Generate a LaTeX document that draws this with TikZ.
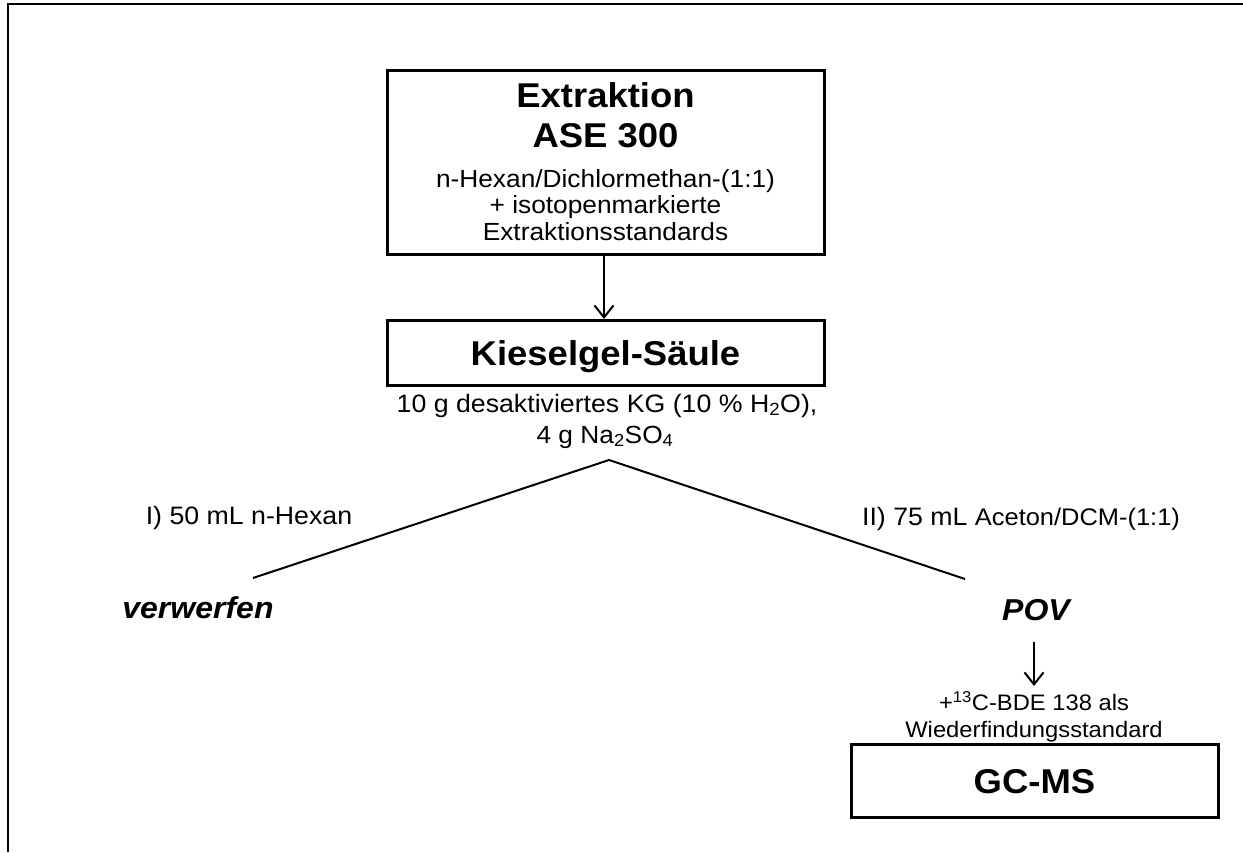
\documentclass[tikz,border=0pt]{standalone}
\usepackage{fontspec}
\setmainfont[FakeStretch=1.06]{Liberation Sans}
\usetikzlibrary{arrows.meta}
\tikzset{
  boxnode/.style={draw, line width=3pt, inner sep=0pt},
  titletxt/.style={anchor=base, inner sep=0pt, font=\fontsize{34.4}{40}\selectfont\bfseries},
  smalltxt/.style={anchor=base, inner sep=0pt, font=\fontsize{24.8}{28}\selectfont},
  notetxt/.style={anchor=base, inner sep=0pt, font=\fontsize{22.4}{26}\selectfont},
  resulttxt/.style={anchor=base, inner sep=0pt, font=\fontsize{30.2}{36}\selectfont\bfseries\itshape},
  flowarrow/.style={line width=2pt, -{Straight Barb[length=12pt,width=19pt]}},
  branchline/.style={line width=2pt},
  framelines/.style={line width=2.4pt}
}
\begin{document}
\begin{tikzpicture}[x=1pt,y=-1pt]
\useasboundingbox (0,0) rectangle (1243,852);
% frame
\coordinate (fbl) at (8,852);
\coordinate (ftl) at (8,4);
\coordinate (ftr) at (1243,4);
\draw[framelines] (fbl) -- (ftl) -- (ftr);

% box 1
\node[boxnode, minimum width=437pt, minimum height=184pt] (box1) at (605.5,162) {};
\node[titletxt] (t1a) at (605.5,107) {Extraktion};
\node[titletxt] (t1b) at (605.5,147) {ASE 300};
\node[smalltxt] (t1c) at (605.5,187) {n-Hexan/Dichlormethan-(1:1)};
\node[smalltxt] (t1d) at (605.5,213) {+ isotopenmarkierte};
\node[smalltxt] (t1e) at (605.5,240) {Extraktionsstandards};

% box 2
\node[boxnode, minimum width=437pt, minimum height=65pt] (box2) at (605.5,353) {};
\node[titletxt] (t2) at (605.5,365) {Kieselgel-Säule};
\coordinate (a1s) at (604,255.5);
\coordinate (a1e) at (604,319);
\draw[flowarrow] (a1s) -- (a1e);

\node[smalltxt, font=\fontsize{25.2}{28}\selectfont] (k1) at (607,412) {10 g desaktiviertes KG (10 \% H\textsubscript{2}O),};
\node[smalltxt] (k2) at (605,443) {4 g Na\textsubscript{2}SO\textsubscript{4}};

% branches
\coordinate (apex) at (609,460);
\coordinate (lend) at (253,578);
\coordinate (rend) at (965,579);
\draw[branchline] (lend) -- (apex) -- (rend);

\node[smalltxt, font=\fontsize{25.2}{28}\selectfont] (lab1) at (249,524) {I) 50 mL n-Hexan};
\node[smalltxt, font=\fontsize{25.2}{28}\selectfont] (lab2) at (1021,525) {II) 75 mL {\fontsize{24}{28}\selectfont Aceton/DCM-(1:1)}};

\node[resulttxt] (verw) at (198,618) {verwerfen};
\node[resulttxt] (pov) at (1036,620) {POV};

% POV -> GC-MS
\coordinate (a2s) at (1034,642);
\coordinate (a2e) at (1034,686);
\draw[flowarrow] (a2s) -- (a2e);
\node[notetxt] (w1) at (1034,710) {+\textsuperscript{13}C-BDE 138 als};
\node[notetxt] (w2) at (1034,737) {Wiederfindungsstandard};

\node[boxnode, minimum width=367pt, minimum height=73pt] (box3) at (1034.5,780.5) {};
\node[titletxt] (t3) at (1034.5,793) {GC-MS};
\end{tikzpicture}
\end{document}
